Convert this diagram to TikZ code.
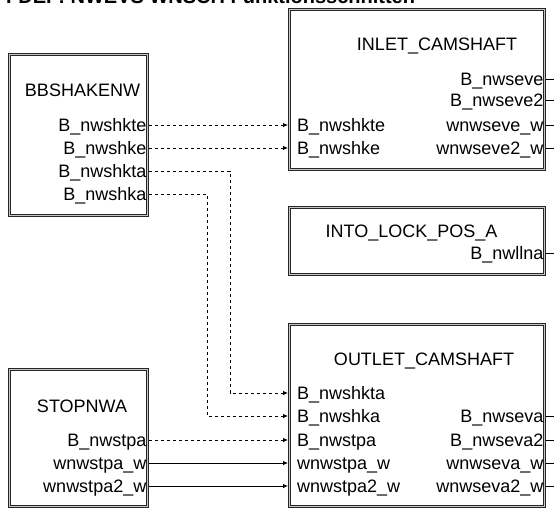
\documentclass[tikz,border=0pt]{standalone}
\usepackage{fontspec}
\setmainfont{Liberation Sans}
\usetikzlibrary{arrows.meta}
\begin{document}
\begin{tikzpicture}[x=1pt,y=-1pt,
  box/.style={draw=black!85, double=gray!45, double distance=1.6pt, line width=0.7pt, inner sep=0pt, rectangle},
  lbl/.style={inner sep=0pt, font=\fontsize{18}{20}\selectfont},
  ttl/.style={lbl, anchor=base},
  outl/.style={lbl, anchor=base east},
  inl/.style={lbl, anchor=base west},
  sig/.style={line width=0.8pt, -{Latex[length=5pt,width=4.5pt]}},
  dsig/.style={sig, dash pattern=on 3.3pt off 2.7pt},
  stub/.style={line width=0.8pt}
]
\useasboundingbox (0,0) rectangle (554,509);
\clip (0,0) rectangle (554,509);

% title (clipped at the top)
\node[anchor=base west, inner sep=0pt, font=\bfseries\fontsize{20}{22}\selectfont] (title) at (6,3) {FDEF: NWEVS WNSCH Funktionsschnitten};

% boxes
\node[box, minimum width=138, minimum height=161] (BB) at (78.5,135) {};
\node[box, minimum width=138, minimum height=137] (ST) at (78.5,438) {};
\node[box, minimum width=255, minimum height=160] (IN) at (417,89.5) {};
\node[box, minimum width=255, minimum height=67] (LK) at (417,241) {};
\node[box, minimum width=255, minimum height=182] (OU) at (417,415.5) {};

% box titles
\node[ttl] (BBt) at (82.5,96) {BBSHAKENW};
\node[ttl] (STt) at (82,412) {STOPNWA};
\node[ttl] (INt) at (437,50) {INLET\_CAMSHAFT};
\node[ttl] (LKt) at (411.5,237) {INTO\_LOCK\_POS\_A};
\node[ttl] (OUt) at (424,365) {OUTLET\_CAMSHAFT};

% BBSHAKENW outputs
\node[outl] (bbl1) at (146.5,131) {B\_nwshkte};
\node[outl] (bbl2) at (146.5,154) {B\_nwshke};
\node[outl] (bbl3) at (146.5,177) {B\_nwshkta};
\node[outl] (bbl4) at (146.5,200) {B\_nwshka};
\coordinate (bbo1) at (149,125);
\coordinate (bbo2) at (149,148);
\coordinate (bbo3) at (149,171);
\coordinate (bbo4) at (149,194);

% STOPNWA outputs
\node[outl] (stl1) at (146.5,446) {B\_nwstpa};
\node[outl] (stl2) at (146.5,469) {wnwstpa\_w};
\node[outl] (stl3) at (146.5,492) {wnwstpa2\_w};
\coordinate (sto1) at (149,440);
\coordinate (sto2) at (149,463);
\coordinate (sto3) at (149,486);

% INLET_CAMSHAFT
\node[inl] (inl1) at (297,131) {B\_nwshkte};
\node[inl] (inl2) at (297,154) {B\_nwshke};
\coordinate (ini1) at (288,125);
\coordinate (ini2) at (288,148);
\node[outl] (inr1) at (543.5,85) {B\_nwseve};
\node[outl] (inr2) at (543.5,106) {B\_nwseve2};
\node[outl] (inr3) at (543.5,131) {wnwseve\_w};
\node[outl] (inr4) at (543.5,154) {wnwseve2\_w};
\coordinate (ino1) at (546,79);
\coordinate (ino2) at (546,100);
\coordinate (ino3) at (546,125);
\coordinate (ino4) at (546,148);
\coordinate (ine1) at (554,79);
\coordinate (ine2) at (554,100);
\coordinate (ine3) at (554,125);
\coordinate (ine4) at (554,148);
\draw[stub] (ino1) -- (ine1);
\draw[stub] (ino2) -- (ine2);
\draw[stub] (ino3) -- (ine3);
\draw[stub] (ino4) -- (ine4);

% INTO_LOCK_POS_A
\node[outl] (lkr1) at (543.5,259) {B\_nwllna};
\coordinate (lko1) at (546,253);
\coordinate (lke1) at (554,253);
\draw[stub] (lko1) -- (lke1);

% OUTLET_CAMSHAFT
\node[inl] (oul1) at (297,399) {B\_nwshkta};
\node[inl] (oul2) at (297,422) {B\_nwshka};
\node[inl] (oul3) at (297,446) {B\_nwstpa};
\node[inl] (oul4) at (297,469) {wnwstpa\_w};
\node[inl] (oul5) at (297,492) {wnwstpa2\_w};
\coordinate (oui1) at (288,393);
\coordinate (oui2) at (288,416);
\coordinate (oui3) at (288,440);
\coordinate (oui4) at (288,463);
\coordinate (oui5) at (288,486);
\node[outl] (our1) at (543.5,422) {B\_nwseva};
\node[outl] (our2) at (543.5,446) {B\_nwseva2};
\node[outl] (our3) at (543.5,469) {wnwseva\_w};
\node[outl] (our4) at (543.5,492) {wnwseva2\_w};
\coordinate (ouo1) at (546,416);
\coordinate (ouo2) at (546,440);
\coordinate (ouo3) at (546,463);
\coordinate (ouo4) at (546,486);
\coordinate (oue1) at (554,416);
\coordinate (oue2) at (554,440);
\coordinate (oue3) at (554,463);
\coordinate (oue4) at (554,486);
\draw[stub] (ouo1) -- (oue1);
\draw[stub] (ouo2) -- (oue2);
\draw[stub] (ouo3) -- (oue3);
\draw[stub] (ouo4) -- (oue4);

% connectors
\coordinate (k1) at (230,171);
\coordinate (k2) at (207,194);
\draw[dsig] (bbo1) -- (ini1);
\draw[dsig] (bbo2) -- (ini2);
\draw[dsig] (bbo3) -- (k1) |- (oui1);
\draw[dsig] (bbo4) -- (k2) |- (oui2);
\draw[dsig] (sto1) -- (oui3);
\draw[sig] (sto2) -- (oui4);
\draw[sig] (sto3) -- (oui5);
\end{tikzpicture}
\end{document}
